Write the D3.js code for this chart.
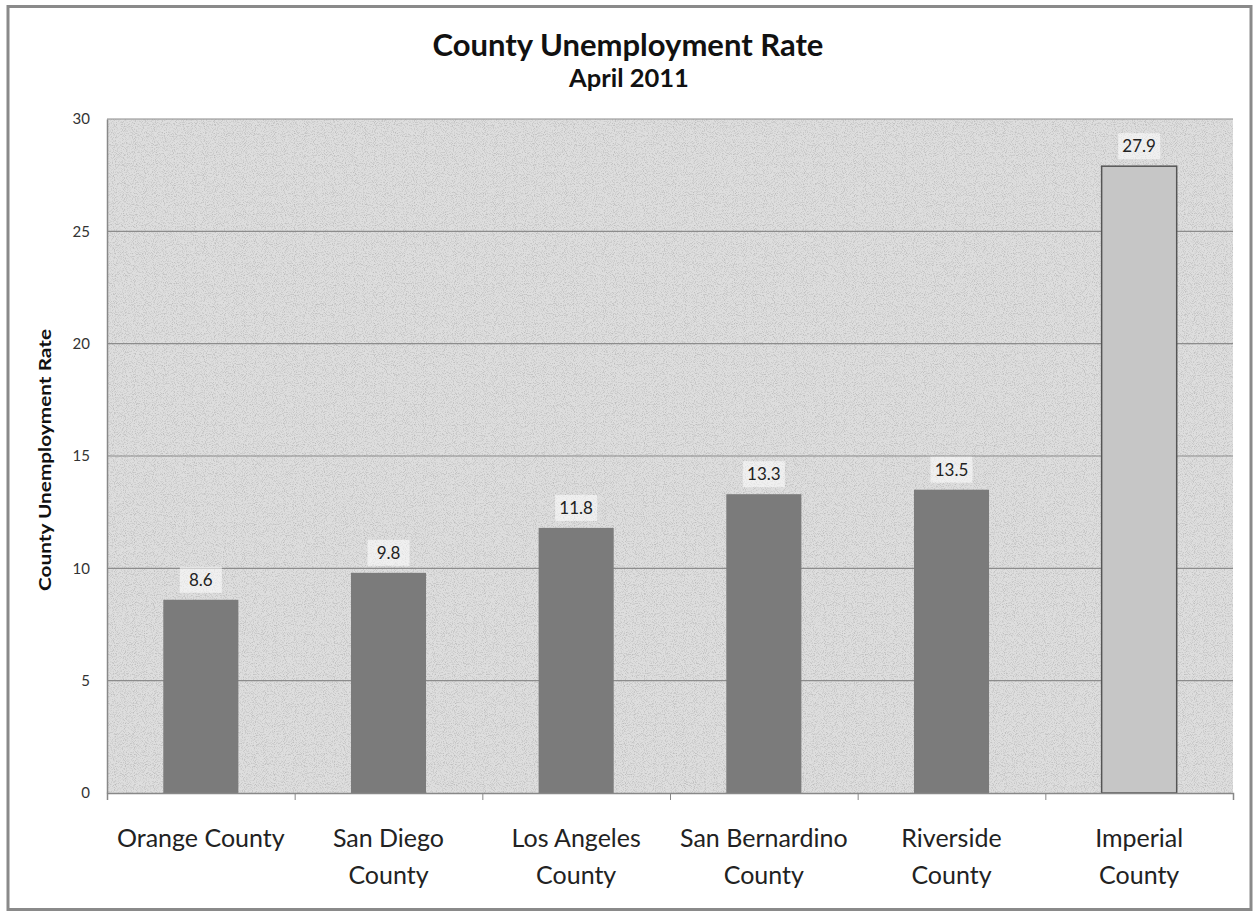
<!DOCTYPE html>
<html><head><meta charset="utf-8">
<script src="https://cdn.jsdelivr.net/npm/d3@7"></script>
<style>body{margin:0;background:#fff;font-family:Lato, "Open Sans", sans-serif;}</style>
</head><body>
<svg id="c" width="1255" height="912"></svg>
<script>
const categories = [["Orange County"],["San Diego","County"],["Los Angeles","County"],["San Bernardino","County"],["Riverside","County"],["Imperial","County"]];
const values = [8.6, 9.8, 11.8, 13.3, 13.5, 27.9];
const yTicks = [0,5,10,15,20,25,30];
const title = "County Unemployment Rate";
const subtitle = "April 2011";
const yTitle = "County Unemployment Rate";

const svg = d3.select("#c");
const defs = svg.append("defs");
const filt = defs.append("filter").attr("id","tex").attr("x",0).attr("y",0).attr("width","100%").attr("height","100%");
filt.append("feTurbulence").attr("type","fractalNoise").attr("baseFrequency","1.1").attr("numOctaves",1).attr("seed",3).attr("result","n");
filt.append("feColorMatrix").attr("in","n").attr("type","matrix")
  .attr("values","0 0 0 0 0.5  0 0 0 0 0.5  0 0 0 0 0.5  0 0 0 -3 1.6").attr("result","m");
filt.append("feComposite").attr("in","m").attr("in2","SourceGraphic").attr("operator","in");

// outer border
svg.append("rect").attr("x",8).attr("y",6.5).attr("width",1243).attr("height",903)
  .attr("fill","#fff").attr("stroke","#8a8a8a").attr("stroke-width",3);

const L=107, R=1233, T=119, B=793;
const x = d3.scaleBand().domain(d3.range(values.length)).range([L,R]).paddingInner(0.6).paddingOuter(0.3);
const xo = d3.scaleBand().domain(d3.range(values.length)).range([L,R]);
const y = d3.scaleLinear().domain([0,30]).range([B,T]);

svg.append("rect").attr("x",L).attr("y",T).attr("width",R-L).attr("height",B-T).attr("fill","#dedede");
svg.append("rect").attr("x",L).attr("y",T).attr("width",R-L).attr("height",B-T).attr("fill","#e4e4e4").attr("filter","url(#tex)");

// gridlines
svg.append("g").selectAll("line").data(yTicks.filter(d=>d>0)).join("line")
  .attr("x1",L).attr("x2",R).attr("y1",d=>y(d)).attr("y2",d=>y(d))
  .attr("stroke","#8c8c8c").attr("stroke-width",1.2);

// y axis
const ya = svg.append("g").attr("transform",`translate(${L},0)`)
  .call(d3.axisLeft(y).tickValues(yTicks).tickSize(0).tickPadding(17));
ya.select(".domain").attr("stroke","#888").attr("stroke-width",1.5);
ya.selectAll("text").attr("font-size",15).attr("fill","#333").attr("font-family","Lato, sans-serif");

// bars
svg.append("g").selectAll("rect").data(values).join("rect")
  .attr("x",(d,i)=>x(i)).attr("width",x.bandwidth())
  .attr("y",d=>y(d)).attr("height",d=>B-y(d))
  .attr("fill",(d,i)=>i===values.length-1?"#c6c6c6":"#7b7b7b")
  .attr("stroke",(d,i)=>i===values.length-1?"#555":"none").attr("stroke-width",1.5);

// x axis
const xa = svg.append("g").attr("transform",`translate(0,${B})`)
  .call(d3.axisBottom(d3.scaleLinear().domain([0,values.length]).range([L,R])).tickValues(d3.range(values.length+1)).tickSize(7).tickFormat(""));
xa.select(".domain").attr("stroke","#888").attr("stroke-width",1.5);
xa.selectAll("line").attr("stroke","#888");

// value labels
const lbl = svg.append("g").selectAll("g").data(values).join("g")
  .attr("transform",(d,i)=>`translate(${x(i)+x.bandwidth()/2},${y(d)-20})`);
lbl.append("rect").attr("x",-21).attr("y",-13).attr("width",42).attr("height",26).attr("fill","#fff").attr("opacity",0.55);
lbl.append("text").attr("text-anchor","middle").attr("dy","0.35em").attr("font-size",17).attr("fill","#222")
  .text(d=>d.toFixed(1));

// category labels
const cl = svg.append("g").selectAll("text").data(categories).join("text")
  .attr("x",(d,i)=>xo(i)+xo.bandwidth()/2).attr("y",847)
  .attr("text-anchor","middle").attr("font-size",25).attr("fill","#222");
cl.selectAll("tspan").data(d=>d).join("tspan")
  .attr("x",function(){return this.parentNode.getAttribute("x");})
  .attr("dy",(d,i)=>i===0?0:37).text(d=>d);

// titles
svg.append("text").attr("x",628).attr("y",56).attr("text-anchor","middle").attr("font-size",31).attr("font-weight","bold").attr("fill","#111").text(title);
svg.append("text").attr("x",629).attr("y",87).attr("text-anchor","middle").attr("font-size",25.5).attr("font-weight","bold").attr("fill","#111").text(subtitle);
svg.append("text").attr("transform","translate(51,460) rotate(-90)").attr("text-anchor","middle")
  .attr("font-size",17).attr("font-weight","bold").attr("fill","#111")
  .attr("textLength",262).attr("lengthAdjust","spacingAndGlyphs").text(yTitle);
</script>
</body></html>
